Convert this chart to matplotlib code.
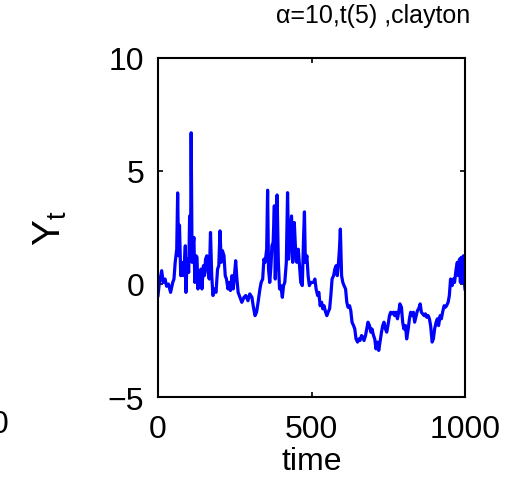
import matplotlib
matplotlib.use("Agg")
import matplotlib.pyplot as plt

plt.rcParams['font.family'] = ['Liberation Sans', 'DejaVu Sans']

# simulated path: time step and Y_t value
time_pts = [0, 4, 12, 17, 23, 28, 34, 41, 48, 52, 56, 61, 64, 67, 70, 74, 78, 82, 87, 89,
            91, 95, 100, 103, 106, 108, 111, 114, 117, 120, 124, 127, 130, 133, 137, 140, 143, 148, 151, 155,
            159, 163, 167, 171, 175, 179, 183, 189, 194, 198, 202, 206, 210, 215, 219, 223, 228, 232, 236, 241,
            245, 249, 253, 257, 261, 267, 273, 280, 286, 293, 299, 306, 310, 316, 321, 326, 332, 336, 341, 345,
            349, 354, 357, 360, 364, 368, 371, 375, 379, 382, 385, 388, 392, 396, 400, 405, 409, 413, 418, 422,
            426, 431, 435, 439, 444, 448, 452, 457, 461, 465, 470, 474, 477, 480, 485, 489, 493, 498, 502, 507,
            511, 515, 520, 524, 528, 533, 537, 541, 546, 550, 554, 559, 563, 567, 572, 576, 580, 584, 588, 591,
            594, 598, 602, 606, 611, 615, 619, 624, 628, 632, 637, 641, 645, 650, 654, 658, 663, 667, 671, 676,
            680, 684, 689, 693, 697, 702, 706, 710, 715, 719, 723, 728, 732, 736, 741, 745, 749, 754, 758, 762,
            767, 771, 775, 780, 784, 788, 793, 797, 801, 806, 810, 815, 819, 823, 828, 832, 836, 841, 845, 849,
            854, 858, 862, 867, 871, 875, 880, 884, 888, 893, 897, 901, 906, 910, 914, 919, 923, 927, 932, 936,
            940, 945, 949, 953, 958, 962, 966, 971, 975, 978, 982, 985, 988, 991, 995, 998, 1000]
y_pts = [-0.51, 0.0, 0.59, 0.07, 0.22, -0.10, 0.0, -0.37, 0.07, 0.22, 0.96, 1.54, 4.03, 1.25, 2.60, 0.37, 0.96, 0.37, 1.10, 1.69,
         -0.37, 1.10, 0.51, 3.01, 1.25, 6.69, 0.96, 1.69, 2.06, 0.07, 1.25, 1.18, -0.22, 0.51, 0.07, 0.66, -0.22, 0.81, 0.37, 1.10,
         1.25, 0.51, 0.22, 2.28, 0.37, -0.51, -0.22, -0.37, 0.66, 0.81, 2.35, 0.96, 1.47, 1.25, 0.37, 0.22, -0.22, 0.07, -0.29, 0.37,
         -0.22, 0.37, 1.03, 0.22, -0.37, -0.59, -0.81, -0.59, -0.51, -0.74, -0.44, -0.59, -0.96, -1.40, -1.25, -0.81, -0.22, 0.07, 0.22, 1.10,
         0.96, 1.54, 4.15, 0.66, 0.07, 0.81, 1.69, 1.84, 3.46, 0.22, 2.13, 3.94, 0.96, -0.22, -0.07, -0.59, -0.07, 0.07, 0.96, 4.04,
         1.10, 2.13, 3.01, 0.96, 2.72, 1.54, 0.96, 1.54, 0.81, 0.07, -0.07, 1.99, 3.19, 0.96, 1.25, 0.37, -0.07, 0.07, 0.07, 0.07,
         0.22, -0.22, -0.51, -0.37, -0.96, -0.81, -1.10, -0.96, -1.25, -1.40, -1.25, -1.10, -0.51, 0.22, 0.37, 0.66, 0.81, 0.37, 0.96, 1.54,
         2.43, 0.37, 0.07, -0.07, -0.22, -0.81, -1.03, -0.96, -1.18, -1.69, -1.84, -1.99, -2.43, -2.57, -2.43, -2.50, -2.28, -2.35, -2.50, -2.28,
         -1.99, -1.69, -1.84, -2.13, -1.99, -2.28, -2.43, -2.87, -2.57, -2.94, -2.57, -2.13, -1.84, -1.69, -1.99, -2.13, -1.84, -1.40, -1.25, -1.32,
         -1.25, -1.40, -1.25, -1.54, -1.25, -0.88, -1.03, -1.69, -1.99, -1.84, -2.43, -1.99, -1.54, -1.25, -1.40, -1.25, -1.69, -1.40, -1.18, -1.10,
         -0.88, -1.25, -1.32, -1.40, -1.32, -1.47, -1.40, -1.54, -1.84, -2.57, -2.43, -1.99, -1.69, -1.54, -1.84, -1.40, -1.54, -1.25, -0.96, -1.03,
         -0.96, -0.81, -0.51, 0.22, -0.07, 0.22, 0.07, 0.66, 0.96, 0.37, 1.10, 0.07, 1.18, 0.07, 1.25, 0.07, -0.22]

x_ticks = [0, 500, 1000]
y_ticks = [-5, 0, 5, 10]
title = "α=10,t(5) ,clayton"

fig = plt.figure(figsize=(5.19, 4.81), dpi=100)
ax = fig.add_axes([158 / 519, 1 - 398 / 481, 307 / 519, 339 / 481])

ax.plot(time_pts, y_pts, color=(0, 0, 1), lw=2.3)

ax.set_xlim(0, 1000)
ax.set_ylim(-5, 10)
ax.set_xticks(x_ticks)
ax.set_yticks(y_ticks)
ax.set_yticklabels(['\u22125', '0', '5', '10'])

for s in ax.spines.values():
    s.set_linewidth(1.5)
ax.tick_params(direction='in', top=True, right=True, length=3.5, width=1.2,
               labelsize=23)
ax.tick_params(axis='x', pad=12)
ax.tick_params(axis='y', pad=10)

ax.set_xlabel('time', fontsize=23, labelpad=2)
ax.set_ylabel(r'$\mathregular{Y_t}$', fontsize=28)
ax.yaxis.set_label_coords(-0.29, 0.5)
ax.set_title(title, fontsize=18, x=0.70, pad=26)

# clipped tick label from the neighbouring panel
fig.text(8 / 519, 1 - 425 / 481, '0', ha='right', va='center', fontsize=23)

fig.savefig('out.png', dpi=100)
